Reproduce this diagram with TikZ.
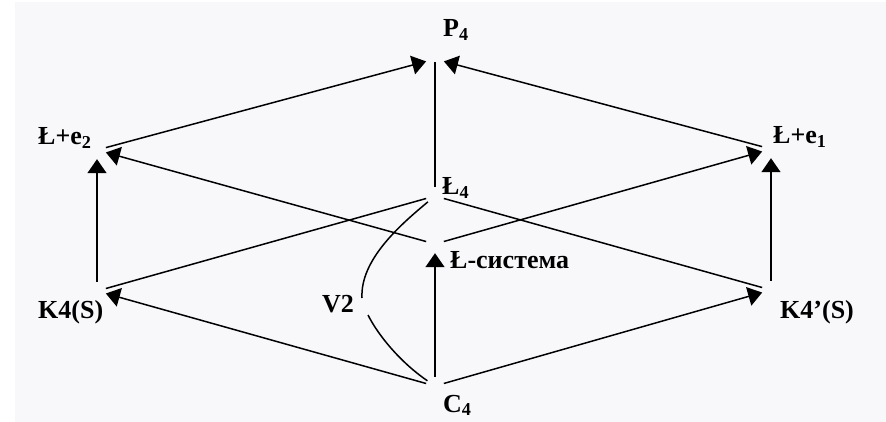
\documentclass[tikz,border=0pt]{standalone}
\usepackage{fontspec}
\setmainfont{Liberation Serif}
\usetikzlibrary{arrows.meta}
\definecolor{bgc}{HTML}{F8F7FA}
\begin{document}
\begin{tikzpicture}[x=1pt,y=-1pt,
  vtx/.style={circle,minimum size=18pt,inner sep=0pt,draw=none},
  lbl/.style={anchor=base west,inner sep=0pt,font=\fontsize{26}{30}\selectfont\bfseries},
  edge/.style={line width=1.5pt},
  arr/.style={edge,-{Triangle[length=14pt,width=19pt]}}]
\useasboundingbox (0,0) rectangle (886,422);
\fill[bgc] (15,2) rectangle (886,422);
% vertices
\node[vtx] (P)   at (435,59)  {};
\node[vtx] (Le2) at (97,150)  {};
\node[vtx] (Le1) at (771,149) {};
\node[vtx] (K)   at (97,291)  {};
\node[vtx] (Kp)  at (771,290) {};
\node[vtx] (L4)  at (435,196) {};
\node[vtx] (Ls)  at (435,244) {};
\node[vtx] (C)   at (435,386) {};
\coordinate (V2a) at (362,298);
\coordinate (V2b) at (368,315);
% labels
\node[lbl] (tP)   at (443,37)  {P\textsubscript{4}};
\node[lbl] (tLe2) at (38,145)  {Ł+e\textsubscript{2}};
\node[lbl] (tLe1) at (773,144) {Ł+e\textsubscript{1}};
\node[lbl] (tL4)  at (442,195) {Ł\textsubscript{4}};
\node[lbl] (tLs)  at (450,268) {Ł-система};
\node[lbl] (tK)   at (38,318)  {K4(S)};
\node[lbl] (tKp)  at (780,318) {K4’(S)};
\node[lbl] (tV2)  at (322,312) {V2};
\node[lbl] (tC)   at (443,412) {C\textsubscript{4}};
% connectors
\draw[arr] (Le2) -- (P);
\draw[arr] (Le1) -- (P);
\draw[edge,shorten >=-6pt] (L4) -- (P);
\draw[arr] (K) -- (Le2);
\draw[arr] (Kp) -- (Le1);
\draw[arr] (Ls) -- (Le2);
\draw[arr] (Ls) -- (Le1);
\draw[edge] (L4) -- (K);
\draw[edge] (L4) -- (Kp);
\draw[arr] (C) -- (K);
\draw[arr] (C) -- (Kp);
\draw[arr] (C) -- (Ls);
\draw[edge] (L4) .. controls (400,225) and (360,260) .. (V2a);
\draw[edge] (V2b) .. controls (378,335) and (400,362) .. (C);
\end{tikzpicture}
\end{document}
